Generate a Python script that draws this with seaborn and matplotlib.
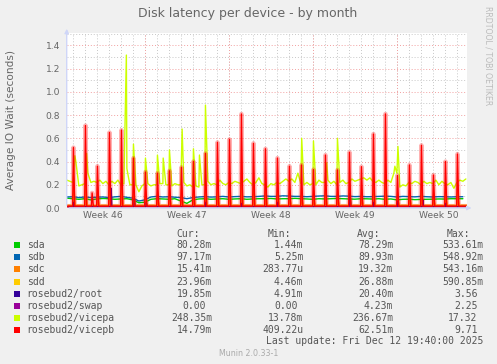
import pandas as pd
import seaborn as sns
import matplotlib.pyplot as plt
import matplotlib.dates as mdates
from matplotlib.ticker import MultipleLocator, FormatStrFormatter
from matplotlib.patches import Rectangle

# графики munin: диапазон месяца (400 px = 33.3 дня)
START = pd.Timestamp("2025-11-09 11:40")
END = pd.Timestamp("2025-12-12 19:40")

names = ["sda", "sdb", "sdc", "sdd", "rosebud2/root", "rosebud2/swap",
         "rosebud2/vicepa", "rosebud2/vicepb"]
colors = ["#00CC00", "#0066B3", "#FF8000", "#FFCC00", "#330099", "#990099",
          "#CCFF00", "#FF0000"]
cur_vals = ["80.28m", "97.17m", "15.41m", "23.96m", "19.85m", "0.00 ", "248.35m", "14.79m"]
min_vals = ["1.44m", "5.25m", "283.77u", "4.46m", "4.91m", "0.00 ", "13.78m", "409.22u"]
avg_vals = ["78.29m", "89.93m", "19.32m", "26.88m", "20.40m", "4.23m", "236.67m", "62.51m"]
max_vals = ["533.61m", "548.92m", "543.16m", "590.85m", "3.56 ", "2.25 ", "17.32 ", "9.71 "]

week_labels_at = ["2025-11-12 12:00", "2025-11-19 12:00", "2025-11-26 12:00",
                  "2025-12-03 12:00", "2025-12-10 12:00"]

# sda / sdb: значения каждые 12 часов, начиная с 2025-11-09 12:00
sda_12h = [0.085,
           0.080, 0.075, 0.080, 0.070, 0.078, 0.082, 0.080, 0.075, 0.078, 0.080,
           0.070, 0.045, 0.050, 0.075, 0.080, 0.078, 0.075, 0.080, 0.060, 0.040,
           0.070, 0.078, 0.080, 0.075, 0.078, 0.080, 0.075, 0.078, 0.080, 0.075,
           0.078, 0.080, 0.080, 0.082, 0.078, 0.080, 0.080, 0.083, 0.080, 0.078,
           0.075, 0.080, 0.078, 0.080, 0.082, 0.080, 0.078, 0.076, 0.080, 0.079,
           0.077, 0.080, 0.075, 0.078, 0.070, 0.075, 0.076, 0.072, 0.074, 0.075,
           0.076, 0.078, 0.077, 0.080, 0.080, 0.080]
sdb_12h = [0.095,
           0.097, 0.090, 0.095, 0.090, 0.093, 0.095, 0.090, 0.096, 0.100, 0.092,
           0.085, 0.060, 0.070, 0.095, 0.100, 0.095, 0.097, 0.093, 0.090, 0.080,
           0.090, 0.095, 0.098, 0.094, 0.096, 0.100, 0.095, 0.098, 0.100, 0.096,
           0.097, 0.100, 0.104, 0.100, 0.100, 0.105, 0.103, 0.100, 0.100, 0.097,
           0.100, 0.103, 0.105, 0.100, 0.100, 0.104, 0.102, 0.098, 0.100, 0.097,
           0.098, 0.100, 0.102, 0.100, 0.095, 0.100, 0.098, 0.096, 0.100, 0.097,
           0.095, 0.098, 0.097, 0.095, 0.097, 0.097]

# vicepa: значения каждые 6 часов, начиная с 2025-11-09 12:00
vicepa_6h = [0.24, 0.23,
             0.22, 0.40, 0.19, 0.20,  0.21, 0.30, 0.22, 0.23,
             0.22, 0.24, 0.21, 0.23,  0.20, 0.23, 0.21, 0.24,
             0.20, 0.21, 0.34, 0.20,  0.20, 0.20, 0.14, 0.19,
             0.21, 0.21, 0.19, 0.20,  0.20, 0.21, 0.21, 0.20,
             0.20, 0.19, 0.21, 0.20,  0.20, 0.22, 0.19, 0.20,
             0.18, 0.19, 0.18, 0.20,  0.20, 0.23, 0.20, 0.21,
             0.20, 0.24, 0.21, 0.20,  0.22, 0.21, 0.23, 0.22,
             0.21, 0.23, 0.25, 0.22,  0.20, 0.22, 0.26, 0.21,
             0.20, 0.18, 0.21, 0.20,  0.22, 0.21, 0.23, 0.25,
             0.23, 0.25, 0.22, 0.30,  0.21, 0.20, 0.22, 0.20,
             0.21, 0.20, 0.24, 0.22,  0.22, 0.24, 0.21, 0.23,
             0.20, 0.22, 0.24, 0.21,  0.22, 0.25, 0.23, 0.24,
             0.25, 0.26, 0.24, 0.26,  0.23, 0.22, 0.24, 0.22,
             0.21, 0.24, 0.22, 0.30,  0.30, 0.18, 0.20, 0.19,
             0.22, 0.21, 0.23, 0.22,  0.20, 0.23, 0.21, 0.22,
             0.21, 0.24, 0.20, 0.23,  0.21, 0.20, 0.22, 0.17,
             0.22, 0.24, 0.23, 0.25]
vicepa_spike_t = ["2025-11-10 04:00", "2025-11-11 03:30", "2025-11-14 11:00",
                  "2025-11-15 01:10", "2025-11-16 01:10", "2025-11-17 01:10",
                  "2025-11-17 12:40", "2025-11-18 01:10", "2025-11-19 02:30",
                  "2025-11-20 01:10", "2025-11-20 13:10", "2025-11-21 01:10",
                  "2025-11-29 01:40", "2025-11-30 01:10", "2025-12-01 03:40",
                  "2025-12-02 01:10", "2025-12-06 20:00", "2025-12-07 02:10"]
vicepa_spike_v = [0.45, 0.47, 1.317, 0.55, 0.43, 0.456, 0.43, 0.50, 0.68, 0.51,
                  0.456, 0.886, 0.60, 0.577, 0.39, 0.60, 0.36, 0.53]

# ежедневные пики около 01:10, с 2025-11-10 по 2025-12-12
vicepb_peaks = [0.52, 0.71, 0.36, 0.65, 0.67, 0.43, 0.31, 0.30, 0.32, 0.35, 0.40,
                0.47, 0.565, 0.59, 0.81, 0.557, 0.51, 0.43, 0.36, 0.37, 0.33,
                0.456, 0.327, 0.48, 0.356, 0.637, 0.81, 0.28, 0.37, 0.54, 0.284,
                0.40, 0.465]
sdd_peaks = [0.27, 0.30, 0.18, 0.25, 0.28, 0.20, 0.15, 0.14, 0.16, 0.18, 0.20,
             0.22, 0.25, 0.26, 0.32, 0.24, 0.22, 0.19, 0.16, 0.17, 0.15, 0.20,
             0.15, 0.21, 0.16, 0.27, 0.33, 0.13, 0.17, 0.23, 0.13, 0.18, 0.20]
sdc_peaks = [0.15, 0.18, 0.10, 0.16, 0.17, 0.12, 0.09, 0.08, 0.10, 0.11, 0.12,
             0.13, 0.15, 0.16, 0.20, 0.15, 0.14, 0.12, 0.10, 0.10, 0.09, 0.12,
             0.09, 0.13, 0.10, 0.16, 0.20, 0.08, 0.10, 0.14, 0.08, 0.11, 0.12]
vicepb_extra_t = ["2025-11-11 14:30"]
vicepb_extra_v = [0.13]
root_spike_t = ["2025-11-10 02:00", "2025-11-13 04:30", "2025-11-15 03:00",
                "2025-11-16 03:00", "2025-11-21 02:00", "2025-11-24 02:00",
                "2025-11-27 02:00", "2025-12-03 02:30", "2025-12-05 02:00",
                "2025-12-07 02:00", "2025-12-09 04:00", "2025-12-11 02:00"]
root_spike_v = [0.05, 0.17, 0.08, 0.05, 0.05, 0.04, 0.05, 0.13, 0.05, 0.06, 0.07, 0.04]

vicepb_base = 0.016
sdc_base = 0.020
sdd_base = 0.024
root_base = 0.012
swap_base = 0.002

FG = "#666666"


def spiky(times, peaks, base, lead, tail):
    rows = [(START, base)]
    for t, p in zip(times, peaks):
        t = pd.Timestamp(t)
        rows.append((t - pd.Timedelta(hours=lead), base))
        rows.append((t, p))
        rows.append((t + pd.Timedelta(hours=tail), base))
    rows.append((END, base))
    return pd.DataFrame(rows, columns=["time", "value"]).sort_values("time")


daily = pd.date_range("2025-11-10 01:10", periods=len(vicepb_peaks), freq="D")
daily_late = pd.date_range("2025-11-10 01:40", periods=len(sdc_peaks), freq="D")

t12 = pd.date_range("2025-11-09 12:00", periods=len(sda_12h), freq="12h")
t6 = pd.date_range("2025-11-09 12:00", periods=len(vicepa_6h), freq="6h")

series = {
    "sda": pd.DataFrame({"time": t12, "value": sda_12h}),
    "sdb": pd.DataFrame({"time": t12, "value": sdb_12h}),
    "sdc": spiky(daily_late, sdc_peaks, sdc_base, 1.5, 2.5),
    "sdd": spiky(daily_late, sdd_peaks, sdd_base, 1.5, 2.5),
    "rosebud2/root": spiky(root_spike_t, root_spike_v, root_base, 1.0, 1.5),
    "rosebud2/swap": spiky([], [], swap_base, 0, 0),
    "rosebud2/vicepa": pd.concat([
        pd.DataFrame({"time": t6, "value": vicepa_6h}),
        pd.DataFrame({"time": pd.to_datetime(vicepa_spike_t), "value": vicepa_spike_v}),
    ]).sort_values("time"),
    "rosebud2/vicepb": spiky(list(daily) + vicepb_extra_t, vicepb_peaks + vicepb_extra_v,
                             vicepb_base, 1.5, 2.5),
}

sns.set_style("white")
plt.rcParams["font.family"] = ["DejaVu Sans"]

fig = plt.figure(figsize=(4.97, 3.64), dpi=100, facecolor="#F0F0F0")
ax = fig.add_axes([66.7 / 497, 1 - 208 / 364, 400 / 497, 175 / 364])
ax.set_facecolor("white")

for name, color in zip(names, colors):
    df = series[name]
    if name == "rosebud2/vicepb":
        # розовый ореол вокруг красных пиков, как в rrdtool
        sns.lineplot(data=df, x="time", y="value", color=color, linewidth=3.2,
                     alpha=0.3, estimator=None, sort=False, ax=ax, zorder=3)
    sns.lineplot(data=df, x="time", y="value", color=color, linewidth=1.0,
                 estimator=None, sort=False, ax=ax, zorder=3)

ax.set_xlim(START, END)
ax.set_ylim(0, 1.507)

# сетка
dots = (0, (1, 2))
ax.yaxis.set_major_locator(MultipleLocator(0.2))
ax.yaxis.set_minor_locator(MultipleLocator(0.1))
ax.yaxis.set_major_formatter(FormatStrFormatter("%.1f"))
ax.set_xticks(pd.to_datetime(week_labels_at))
ax.xaxis.set_major_formatter(mdates.DateFormatter("Week %V"))
ax.xaxis.set_minor_locator(mdates.DayLocator())
ax.grid(axis="y", which="major", color="#F2A0A0", linestyle=dots, linewidth=0.7)
ax.grid(axis="y", which="minor", color="#C8C8C8", linestyle=dots, linewidth=0.7)
ax.grid(axis="x", which="minor", color="#C8C8C8", linestyle=dots, linewidth=0.7)
ax.grid(axis="x", which="major", visible=False)
for d in pd.date_range("2025-11-16", "2025-12-07", freq="7D"):
    ax.axvline(d, color="#F2A0A0", linestyle=dots, linewidth=0.7, zorder=1)
ax.set_axisbelow(True)

ax.tick_params(axis="both", which="both", length=0, labelsize=6.6, colors=FG)
ax.tick_params(axis="y", pad=4.8)
ax.tick_params(axis="x", pad=2.5)
ax.set_xlabel("")
ax.set_ylabel("Average IO Wait (seconds)", fontsize=7.6, color=FG)
ax.yaxis.set_label_coords(-50.5 / 400, 0.5)

for s in ax.spines.values():
    s.set_visible(False)
axis_col = "#CFD6F8"
ax.annotate("", xy=(0, 1.04), xytext=(0, 0), xycoords="axes fraction",
            arrowprops=dict(arrowstyle="-|>", color=axis_col, lw=1, mutation_scale=6))
ax.annotate("", xy=(1.019, 0), xytext=(0, 0), xycoords="axes fraction",
            arrowprops=dict(arrowstyle="-|>", color=axis_col, lw=1, mutation_scale=6))

W, H = 497, 364


def ftext(x, y, s, **kw):
    fig.text(x / W, 1 - y / H, s, va="center", **kw)


ftext(248, 13.3, "Disk latency per device - by month", ha="center", fontsize=9, color=FG)
ftext(488, 56, "RRDTOOL / TOBI OETIKER", ha="center", rotation=270, fontsize=5.6,
      color="#BBBBBB")

mono = dict(family="DejaVu Sans Mono", fontsize=7.05, color="#555555")
cw = 5.9
ftext(176.7, 234.3, "Cur:", ha="left", **mono)
ftext(267.7, 234.3, "Min:", ha="left", **mono)
ftext(357.3, 234.3, "Avg:", ha="left", **mono)
ftext(446.7, 234.3, "Max:", ha="left", **mono)

rows_y = [245.3, 257.3, 269.4, 281.6, 293.7, 305.7, 318.0, 330.0]
cols = [(cur_vals, 212.0), (min_vals, 303.3), (avg_vals, 393.3), (max_vals, 483.3)]
for i, (name, color) in enumerate(zip(names, colors)):
    y = rows_y[i]
    fig.patches.append(Rectangle((14 / W, 1 - (y + 3) / H), 6 / W, 6 / H,
                                 transform=fig.transFigure, facecolor=color,
                                 edgecolor="none"))
    ftext(26.7, y, name, ha="left", **mono)
    for vals, right in cols:
        s = vals[i]
        pad = len(s) - len(s.rstrip())
        ftext(right - pad * cw, y, s.rstrip(), ha="right", **mono)

ftext(483.3, 341.0, "Last update: Fri Dec 12 19:40:00 2025", ha="right", **mono)
ftext(248.3, 353.3, "Munin 2.0.33-1", ha="center", fontsize=5.7, color="#AAAAAA")

fig.savefig("out.png", dpi=100, facecolor=fig.get_facecolor())
